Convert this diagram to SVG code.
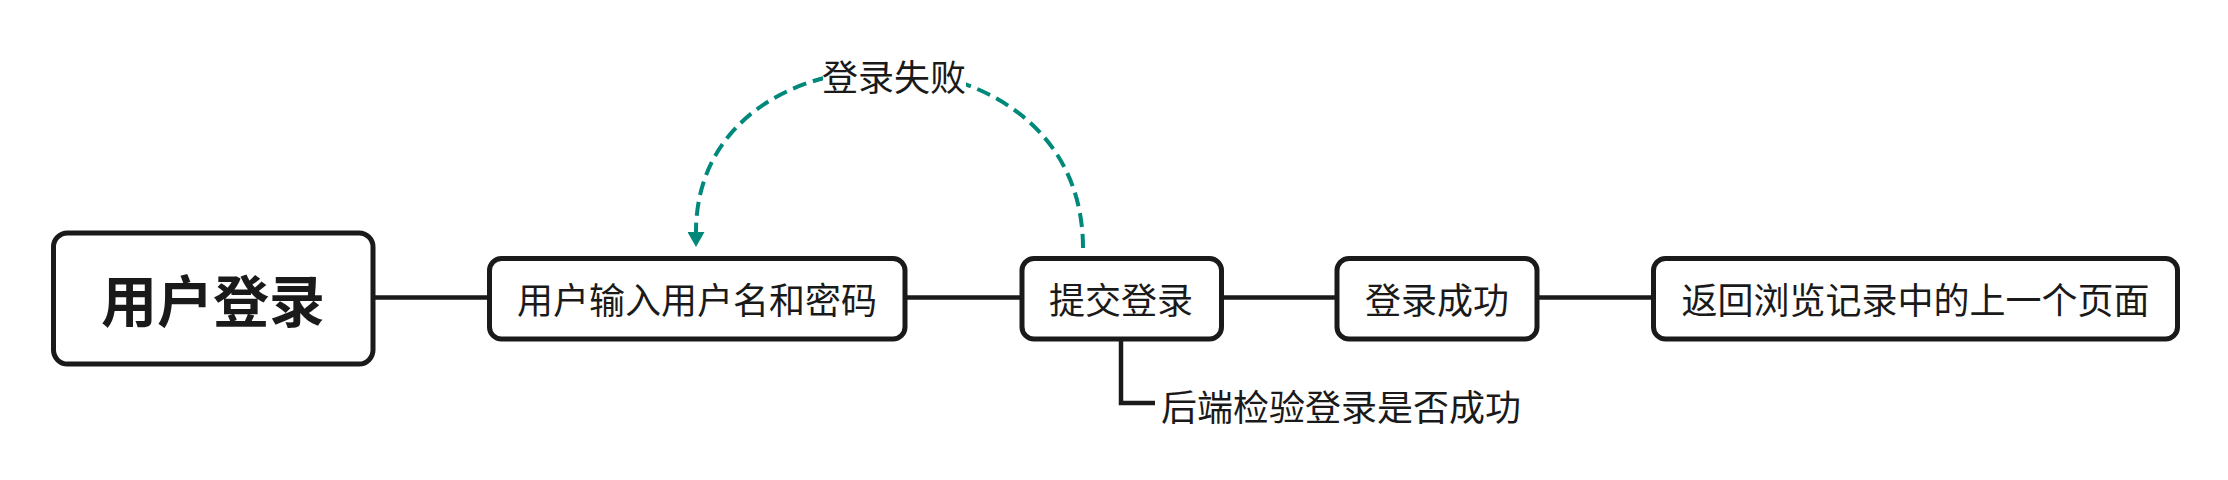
<svg xmlns="http://www.w3.org/2000/svg" width="2228" height="480" viewBox="0 0 2228 480">
<style>
.node rect{fill:#ffffff;stroke:#1a1a1a;stroke-width:5}
.lbl{font-family:"Noto Sans CJK SC","Noto Sans",sans-serif;font-size:36px;fill:#1a1a1a;text-anchor:middle;dominant-baseline:central}
.root{font-size:56px;font-weight:700}
.conn{fill:none;stroke:#1a1a1a;stroke-width:4.5}
.loop{fill:none;stroke:#00897b;stroke-width:4;stroke-dasharray:14 7}
</style>
<defs>
<marker id="arr" viewBox="0 0 15 17" refX="0" refY="8.5" markerWidth="15" markerHeight="17" markerUnits="userSpaceOnUse" orient="auto">
<path d="M0,0 L15,8.5 L0,17 z" fill="#00897b"/>
</marker>
</defs>
<g id="connectors">
<line class="conn" x1="373" y1="297.5" x2="489" y2="297.5"/>
<line class="conn" x1="905" y1="297.5" x2="1022" y2="297.5"/>
<line class="conn" x1="1221" y1="297.5" x2="1337" y2="297.5"/>
<line class="conn" x1="1537" y1="297.5" x2="1653" y2="297.5"/>
<polyline class="conn" points="1121,340 1121,403 1155,403"/>
<path class="loop" d="M1083,248 C1083,14 696,14 696,232" marker-end="url(#arr)"/>
<rect x="823" y="56" width="143" height="38" fill="#ffffff"/>
<text class="lbl" x="894" y="75">登录失败</text>
<text class="lbl" x="1161" y="405" style="text-anchor:start">后端检验登录是否成功</text>
</g>
<g id="root" class="node">
<rect x="53.5" y="233" width="319.5" height="131" rx="14"/>
<text class="lbl root" x="213" y="297">用户登录</text>
</g>
<g id="input" class="node">
<rect x="489.5" y="258.5" width="415.5" height="80.5" rx="12"/>
<text class="lbl" x="697" y="298">用户输入用户名和密码</text>
</g>
<g id="submit" class="node">
<rect x="1022" y="258.5" width="199.5" height="80.5" rx="12"/>
<text class="lbl" x="1121" y="298">提交登录</text>
</g>
<g id="success" class="node">
<rect x="1337" y="258.5" width="200" height="80.5" rx="12"/>
<text class="lbl" x="1437" y="298">登录成功</text>
</g>
<g id="return" class="node">
<rect x="1653.5" y="258.5" width="524" height="80.5" rx="12"/>
<text class="lbl" x="1915.5" y="298">返回浏览记录中的上一个页面</text>
</g>
</svg>
